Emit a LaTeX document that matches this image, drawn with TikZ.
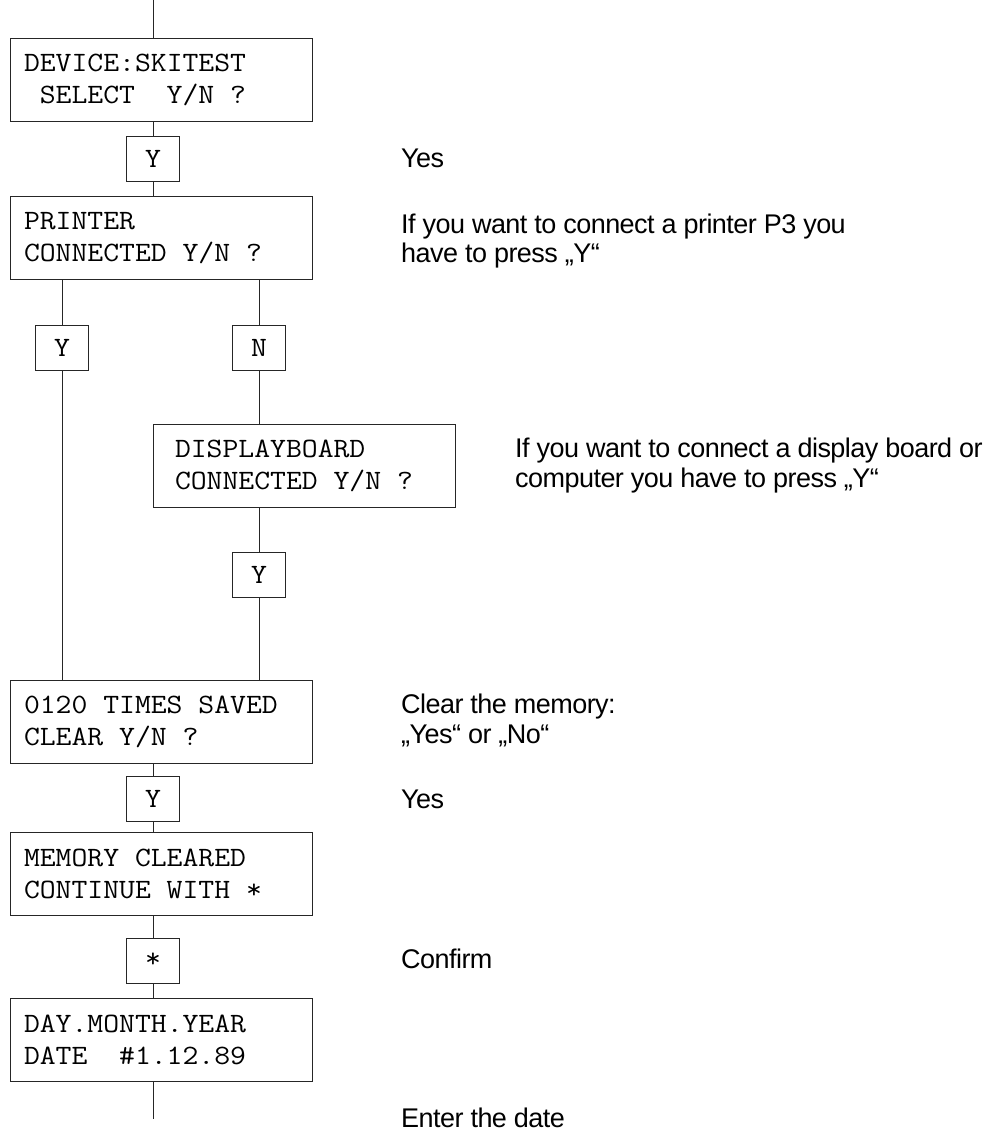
\documentclass[tikz,border=0pt]{standalone}
\usepackage{fontspec}
\setmainfont{Liberation Sans}[LetterSpace=-2.0]
\newfontfamily\lcdfont{Latin Modern Mono}[FakeStretch=1.1]
\usetikzlibrary{positioning}
% feste Zeichenbreite fuer Leerstellen der Anzeige
\newcommand{\lz}{\hphantom{0}}
\tikzset{
  anzeige/.style={rectangle, draw=black!85, line width=0.9pt,
    minimum width=302pt, minimum height=83pt, text width=274pt,
    inner xsep=14pt, align=left, font=\lcdfont\fontsize{28}{32}\selectfont},
  taste/.style={rectangle, draw=black!85, line width=0.9pt,
    minimum width=53pt, minimum height=45pt, inner sep=0pt,
    font=\lcdfont\fontsize{28}{32}\selectfont},
  hinweis/.style={anchor=base west, inner sep=0pt, align=left,
    font=\fontsize{27}{29.5}\selectfont},
  linie/.style={draw=black!85, line width=0.9pt}
}

\begin{document}
\begin{tikzpicture}[x=1pt, y=-1pt]
    \useasboundingbox (0,0) rectangle (987,1131);

    % Hauptspalte mit den Anzeigen
    \coordinate (start) at (153,0);
    \node[anzeige] (sel) at (161,79.5) {DEVICE:SKITEST\\\lz SELECT\lz\lz Y/N\lz ?};
    \node[taste] (ysel) at (153,158.5) {Y};
    \node[anzeige] (prn) at (161,238) {PRINTER\\CONNECTED\lz Y/N\lz ?};

    % Verzweigung Drucker ja / nein
    \node[taste] (yprn) at (62,348) {Y};
    \node[taste] (nprn) at (259,348) {N};
    \node[anzeige, text width=258pt, inner xsep=22pt] (dsp) at (304,465.5)
      {DISPLAYBOARD\\CONNECTED\lz Y/N\lz ?};
    \node[taste] (ydsp) at (259,575) {Y};

    % Speicher loeschen und Datum
    \node[anzeige] (clr) at (161,722) {0120\lz TIMES\lz SAVED\\CLEAR\lz Y/N\lz ?};
    \node[taste] (yclr) at (153,798.5) {Y};
    \node[anzeige] (mem) at (161,873.5) {MEMORY\lz CLEARED\\CONTINUE\lz WITH\lz *};
    \node[taste] (stern) at (153,960.5) {*};
    \node[anzeige] (dat) at (161,1040) {DAY.MONTH.YEAR\\DATE\lz\lz\#1.12.89};
    \coordinate (ende) at (153,1119);

    % Erlaeuterungen rechts (Bezug: Grundlinie der letzten Zeile)
    \node[hinweis] (tsel) at (401,168) {Yes};
    \node[hinweis] (tprn) at (401,263) {If you want to connect a printer P3 you\\have to press „Y“};
    \node[hinweis] (tdsp) at (515,487) {If you want to connect a display board or\\computer you have to press „Y“};
    \node[hinweis] (tclr) at (401,743) {Clear the memory:\\„Yes“ or „No“};
    \node[hinweis] (tyes) at (401,808) {Yes};
    \node[hinweis] (tstern) at (401,968) {Confirm};
    \node[hinweis] (tdat) at (401,1127) {Enter the date};

    % Verbindungen
    \draw[linie] (start) -- (start |- sel.north);
    \draw[linie] (sel.south -| ysel) -- (ysel.north);
    \draw[linie] (ysel.south) -- (ysel.south |- prn.north);
    \draw[linie] (prn.south -| yprn) -- (yprn.north);
    \draw[linie] (prn.south -| nprn) -- (nprn.north);
    \draw[linie] (yprn.south) -- (yprn.south |- clr.north);
    \draw[linie] (nprn.south) -- (nprn.south |- dsp.north);
    \draw[linie] (dsp.south -| ydsp) -- (ydsp.north);
    \draw[linie] (ydsp.south) -- (ydsp.south |- clr.north);
    \draw[linie] (clr.south -| yclr) -- (yclr.north);
    \draw[linie] (yclr.south) -- (yclr.south |- mem.north);
    \draw[linie] (mem.south -| stern) -- (stern.north);
    \draw[linie] (stern.south) -- (stern.south |- dat.north);
    \draw[linie] (dat.south -| ende) -- (ende);
\end{tikzpicture}
\end{document}
